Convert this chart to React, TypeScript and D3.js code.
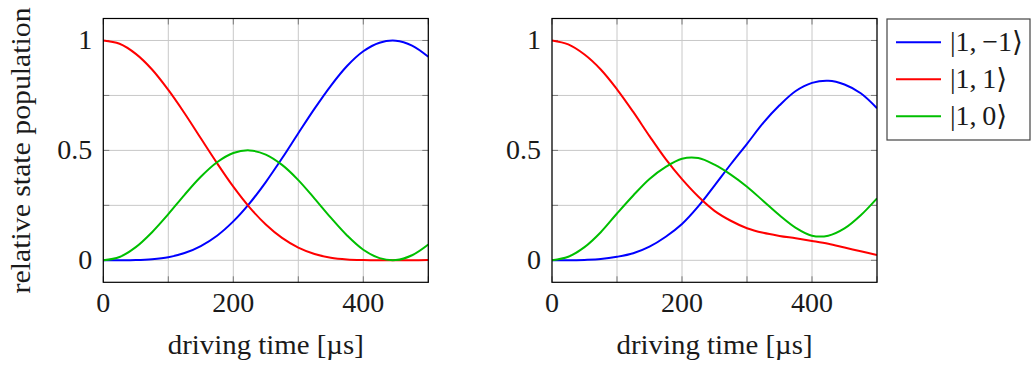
import React from 'react';
import * as d3 from 'd3';

// driving time samples [µs]
const times = [0, 25, 50, 75, 100, 125, 150, 175, 200, 225, 250, 275, 300, 325, 350, 375, 400, 425, 450, 475, 500];

// left panel
const leftMinus1 = [0, 0, 0.001, 0.005, 0.014, 0.033, 0.065, 0.112, 0.177, 0.259, 0.356, 0.464, 0.578, 0.69, 0.794, 0.884, 0.951, 0.99, 0.999, 0.977, 0.926];
const leftPlus1 = [1, 0.985, 0.939, 0.868, 0.775, 0.669, 0.555, 0.442, 0.335, 0.241, 0.163, 0.102, 0.058, 0.029, 0.012, 0.004, 0.001, 0, 0, 0, 0.001];
const leftZero = [0, 0.015, 0.06, 0.128, 0.21, 0.298, 0.38, 0.446, 0.488, 0.5, 0.481, 0.434, 0.365, 0.281, 0.194, 0.113, 0.048, 0.01, 0.001, 0.023, 0.072];

// right panel
const rightMinus1 = [0, 0, 0.002, 0.006, 0.016, 0.032, 0.062, 0.107, 0.165, 0.245, 0.34, 0.437, 0.53, 0.625, 0.705, 0.77, 0.807, 0.817, 0.8, 0.76, 0.692];
const rightPlus1 = [1, 0.982, 0.936, 0.868, 0.778, 0.675, 0.565, 0.46, 0.369, 0.29, 0.225, 0.18, 0.146, 0.125, 0.111, 0.1, 0.088, 0.075, 0.058, 0.041, 0.024];
const rightZero = [0, 0.016, 0.06, 0.128, 0.213, 0.295, 0.37, 0.425, 0.462, 0.465, 0.435, 0.39, 0.335, 0.27, 0.205, 0.148, 0.112, 0.112, 0.145, 0.205, 0.282];

const legendLabels = ['|1,\u2009\u22121\u27E9', '|1,\u20091\u27E9', '|1,\u20090\u27E9'];
const colors = ['#0000ff', '#ff0000', '#00bf00'];

const xGrid = [0, 100, 200, 300, 400, 500];
const xTickLabels = [0, 200, 400];
const yGrid = [0, 0.25, 0.5, 0.75, 1];
const yTickLabels = ['0', '0.5', '1'];

const FONT = "'Liberation Serif', 'Times New Roman', 'DejaVu Serif', 'Noto Serif', serif";
const textStyle = { fontFamily: FONT, fontSize: 27, fill: '#1a1a1a' };
const tickStyle = { ...textStyle, fontSize: 28 };

const top = 18.5, bottom = 282.3;

const Panel = ({ left, right, series, id, showYLabel }) => {
    const x = d3.scaleLinear().domain([0, 500]).range([left, right]);
    const y = d3.scaleLinear().domain([-0.1, 1.1]).range([bottom, top]);
    const line = d3.line<number>()
        .x((_, i) => x(times[i]))
        .y(d => y(d))
        .curve(d3.curveCatmullRom.alpha(0.5));

    return (
        <g>
            <defs>
                <clipPath id={id}>
                    <rect x={left} y={top} width={right - left} height={bottom - top} />
                </clipPath>
            </defs>
            {xGrid.map(v => (
                <line key={'gx' + v} x1={x(v)} x2={x(v)} y1={top} y2={bottom} stroke="#c8c8c8" strokeWidth={1} />
            ))}
            {yGrid.map(v => (
                <line key={'gy' + v} x1={left} x2={right} y1={y(v)} y2={y(v)} stroke="#c8c8c8" strokeWidth={1} />
            ))}
            {/* inward ticks on all sides */}
            {xGrid.map(v => (
                <g key={'tx' + v} stroke="#7a7a7a" strokeWidth={1}>
                    <line x1={x(v)} x2={x(v)} y1={bottom} y2={bottom - 6} />
                    <line x1={x(v)} x2={x(v)} y1={top} y2={top + 6} />
                </g>
            ))}
            {yGrid.map(v => (
                <g key={'ty' + v} stroke="#7a7a7a" strokeWidth={1}>
                    <line x1={left} x2={left + 6} y1={y(v)} y2={y(v)} />
                    <line x1={right} x2={right - 6} y1={y(v)} y2={y(v)} />
                </g>
            ))}
            <g clipPath={`url(#${id})`}>
                {series.map((s, i) => (
                    <path key={i} d={line(s) || ''} fill="none" stroke={colors[i]} strokeWidth={2} />
                ))}
            </g>
            <rect x={left} y={top} width={right - left} height={bottom - top} fill="none" stroke="#000" strokeWidth={1.2} />
            {xTickLabels.map(v => (
                <text key={'lx' + v} x={x(v)} y={312} textAnchor="middle" style={tickStyle}>{v}</text>
            ))}
            {yTickLabels.map(v => (
                <text key={'ly' + v} x={left - 11} y={y(+v) + 9} textAnchor="end" style={tickStyle}>{v}</text>
            ))}
            <text x={(left + right) / 2 - 98} y={354} textLength={196} lengthAdjust="spacingAndGlyphs" style={textStyle}>driving time [µs]</text>
            {showYLabel && (
                <text transform={`translate(30,${(top + bottom) / 2 + 143}) rotate(-90)`} textLength={286} lengthAdjust="spacingAndGlyphs" style={textStyle}>relative state population</text>
            )}
        </g>
    );
};

const Legend = () => {
    const rows = [42.3, 79.3, 116.3];
    return (
        <g>
            <rect x={887} y={19} width={143} height={121} fill="#fff" stroke="#444" strokeWidth={1.2} />
            {legendLabels.map((l, i) => (
                <g key={l}>
                    <line x1={896} x2={941} y1={rows[i]} y2={rows[i]} stroke={colors[i]} strokeWidth={2} />
                    <text x={950} y={rows[i] + 9} style={tickStyle}>{l}</text>
                </g>
            ))}
        </g>
    );
};

export default function App() {
    return (
        <svg width={1034} height={369} style={{ position: 'absolute', left: 0, top: 0, background: '#fff' }}>
            <Panel left={103.3} right={428.3} series={[leftMinus1, leftPlus1, leftZero]} id="clipL" showYLabel={true} />
            <Panel left={552} right={877} series={[rightMinus1, rightPlus1, rightZero]} id="clipR" showYLabel={false} />
            <Legend />
        </svg>
    );
}
